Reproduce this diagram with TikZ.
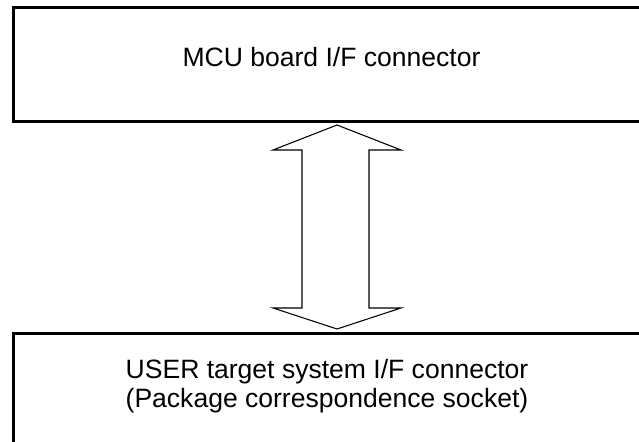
\documentclass[tikz,border=0pt]{standalone}
\usepackage{fontspec}
\setmainfont{Liberation Sans}
\begin{document}
\begin{tikzpicture}[x=0.75pt,y=-0.75pt,
  frame/.style={draw=black,line width=2.3pt},
  dblarrow/.style={draw=black,line width=0.8pt,fill=white,line join=miter},
  lbl/.style={font=\fontsize{19.9}{21.5}\selectfont,align=center,inner sep=0pt}]
\useasboundingbox (0,0) rectangle (639,442);
\clip (0,0) rectangle (639,442);
% top box (right side beyond the picture)
\draw[frame] (680,7.5) -- (13.5,7.5) -- (13.5,121.5) -- (680,121.5);
% bottom box (right and bottom beyond the picture)
\draw[frame] (680,333.5) -- (13.5,333.5) -- (13.5,470);
\node[lbl] (mcu) at (331.5,57) {MCU board I/F connector};
\node[lbl] (user) at (327,386) {USER target system I/F connector\\(Package correspondence socket)};
% double arrow
\draw[dblarrow] (337,125) -- (401,150) -- (369,150) -- (369,308) -- (401,308)
  -- (337,329) -- (273,308) -- (302,308) -- (302,150) -- (273,150) -- cycle;
\end{tikzpicture}
\end{document}
